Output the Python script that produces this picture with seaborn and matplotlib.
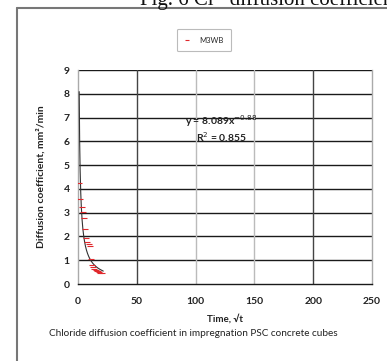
import numpy as np
import pandas as pd
import seaborn as sns
import matplotlib.pyplot as plt
from matplotlib.lines import Line2D

# Square-root time and measured chloride diffusion coefficient (M3WB)
sqrt_time = [1, 2, 3, 4, 5, 6, 7, 8, 9, 10, 11, 12, 13, 14, 15, 16, 17, 18, 19, 20]
diff_coef = [4.23, 3.57, 3.24, 3.04, 2.77, 2.33, 1.95, 1.77, 1.69, 1.60,
             1.04, 0.82, 0.70, 0.64, 0.60, 0.56, 0.53, 0.50, 0.48, 0.46]
series_name = "M3WB"

# Power-law trend fitted to the series
fit_a = 8.089
fit_b = -0.88
fit_r2 = 0.855
fit_x_range = [1, 21.5]

x_ticks = [0, 50, 100, 150, 200, 250]
y_ticks = [0, 1, 2, 3, 4, 5, 6, 7, 8, 9]

sns.set_theme(style="white")
plt.rcParams["font.family"] = ["Lato", "DejaVu Sans"]

W, H = 387, 361
fig = plt.figure(figsize=(W / 100, H / 100), dpi=100)
ax = fig.add_axes([78 / W, 1 - 284 / H, (372 - 78) / W, (284 - 70) / H])

df = pd.DataFrame({"t": sqrt_time, "D": diff_coef})
sns.scatterplot(data=df, x="t", y="D", ax=ax, marker="_", s=20,
                color="#e0282c", linewidth=0.8, label=series_name, zorder=4)

xf = np.linspace(fit_x_range[0], fit_x_range[1], 200)
ax.plot(xf, fit_a * xf ** fit_b, color="#333333", lw=0.8, zorder=3)

ax.set_xlim(0, 250)
ax.set_ylim(0, 9)
ax.set_xticks(x_ticks)
ax.set_yticks(y_ticks)
ax.tick_params(axis="both", labelsize=7.5, length=0, pad=6)
for lab in ax.get_xticklabels() + ax.get_yticklabels():
    lab.set_fontweight("bold")
    lab.set_color("#222222")
ax.tick_params(axis="x", pad=9)

# grid: dark horizontal lines, grey verticals
for y in y_ticks[1:]:
    ax.axhline(y, color="#1a1a1a", lw=1.0, zorder=1)
for x, c in zip(x_ticks[1:-1], ["#444444", "#bbbbbb", "#bbbbbb", "#444444"]):
    ax.axvline(x, color=c, lw=1.0, zorder=1)

ax.spines["top"].set_visible(False)
ax.spines["left"].set_color("#aaaaaa")
ax.spines["right"].set_color("#aaaaaa")
ax.spines["bottom"].set_color("#1a1a1a")
for sp in ax.spines.values():
    sp.set_linewidth(1.0)

ax.set_xlabel("Time, \u221at", fontsize=7, fontweight="bold", labelpad=6, color="#222222")
ax.set_ylabel("Diffusion coefficient, mm\u00b2/min", fontsize=7.5, fontweight="bold",
              labelpad=13, color="#222222")

ax.text(121.5, 6.84, f"y = {fit_a}x$^{{{fit_b}}}$", ha="center", va="center", fontsize=7.5,
        fontweight="bold", color="#222222")
ax.text(121.5, 6.18, f"R$^{{2}}$ = {fit_r2}", ha="center", va="center", fontsize=7.5,
        fontweight="bold", color="#222222")

leg = ax.legend(loc="center", bbox_to_anchor=((204 - 78) / (372 - 78), (284 - 40) / (284 - 70)),
                fontsize=5.5, frameon=True, handlelength=0.6, handletextpad=1.3,
                borderpad=1.0, fancybox=True, markerscale=0.7)
leg.get_frame().set_edgecolor("#aaaaaa")
leg.get_frame().set_linewidth(0.8)

fig.text(0.5, 1 - 333 / H, "Chloride diffusion coefficient in impregnation PSC concrete cubes",
         ha="center", va="center", fontsize=7.2, color="#222222")

# outer frame (left and top edges)
fig.add_artist(Line2D([17 / W, 17 / W], [0, 1 - 8 / H], color="#777777", lw=1.5,
                      transform=fig.transFigure))
fig.add_artist(Line2D([17 / W, 1], [1 - 8 / H, 1 - 8 / H], color="#777777", lw=1.5,
                      transform=fig.transFigure))

# figure caption running off the top edge of the page
fig.text(140 / W, 1 - 5 / H, "Fig. 6 Cl\u207b diffusion coefficient", ha="left",
         va="baseline", fontsize=15, family=["Liberation Serif", "DejaVu Serif"],
         color="#111111")

fig.savefig("out.png", dpi=100)
